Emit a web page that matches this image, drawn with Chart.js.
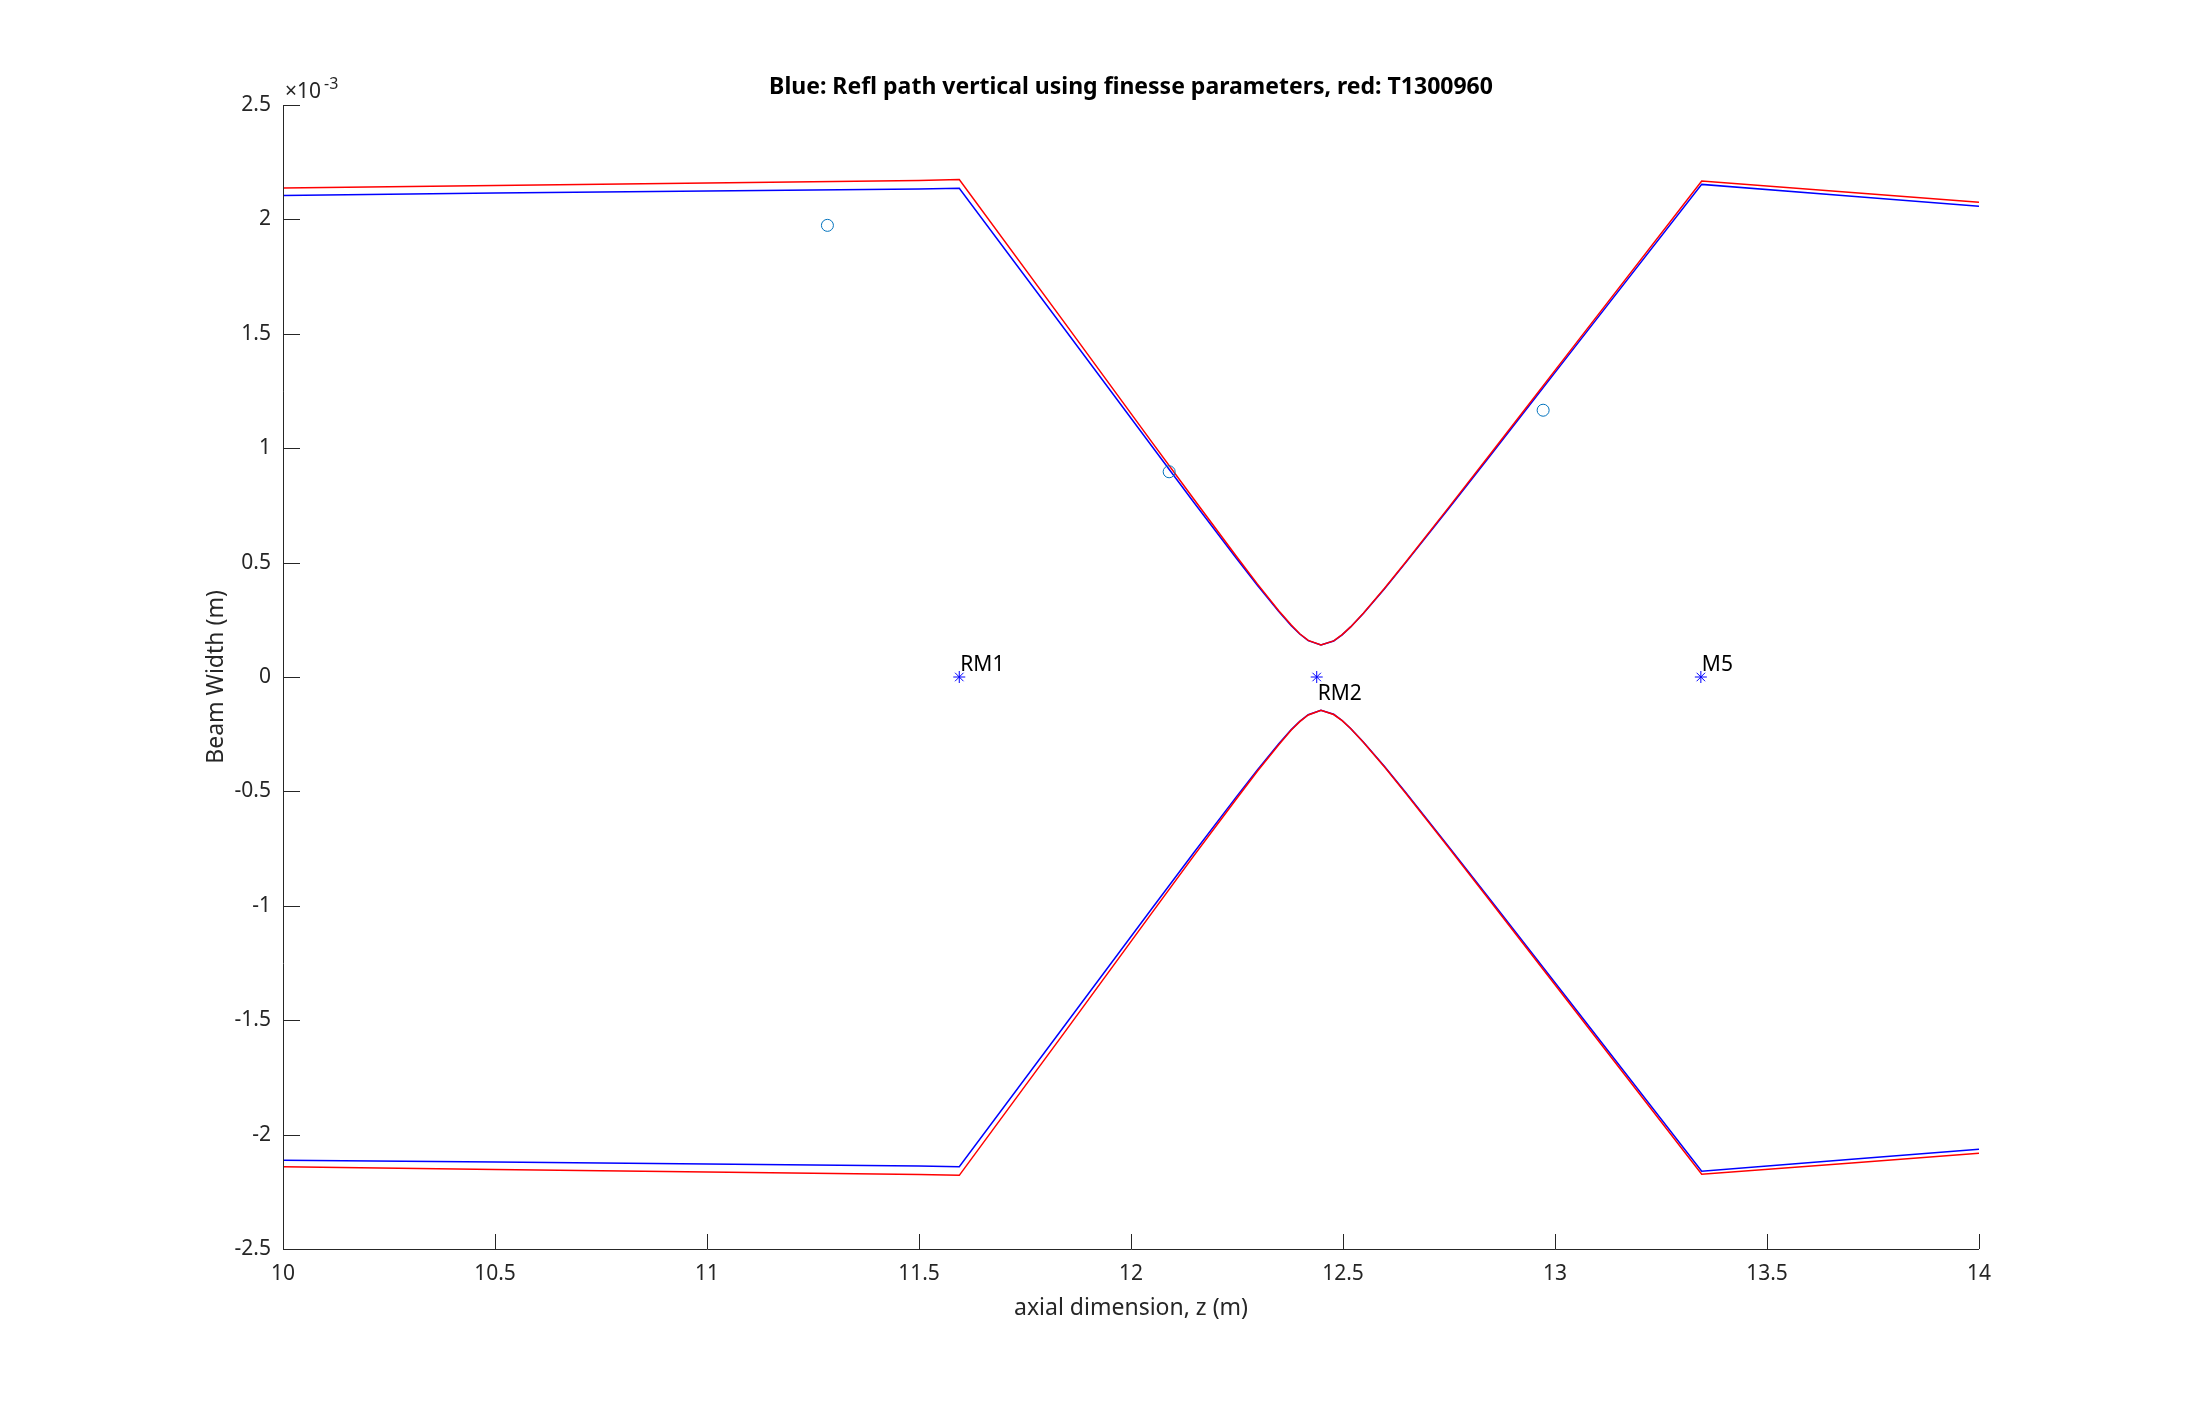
<!DOCTYPE html>
<html><head><meta charset="utf-8">
<script src="https://cdn.jsdelivr.net/npm/chart.js@4.4.1/dist/chart.umd.min.js"></script>
<style>html,body{margin:0;padding:0;background:#fff;}#wrap{width:2187px;height:1406px;}</style>
</head><body><div id="wrap"><canvas id="c" width="2187" height="1406"></canvas></div>
<script>
// values of beam width in units of 1e-3 m (axis multiplier x10^-3)
const zPath = [10, 10.5, 11, 11.5, 11.595, 11.848, 12.048, 12.148, 12.248, 12.298, 12.348, 12.378, 12.398, 12.418, 12.448, 12.478, 12.498, 12.518, 12.548, 12.598, 12.648, 12.748, 12.848, 13.048, 13.346, 13.7, 14];
const blueUpper = [2.105, 2.115, 2.124, 2.133, 2.136, 1.509, 1.012, 0.764, 0.520, 0.401, 0.287, 0.224, 0.188, 0.159, 0.140, 0.157, 0.184, 0.219, 0.278, 0.386, 0.500, 0.733, 0.969, 1.445, 2.153, 2.101, 2.057];
const blueLower = [-2.112, -2.120, -2.128, -2.137, -2.140, -1.512, -1.015, -0.768, -0.525, -0.406, -0.293, -0.230, -0.194, -0.165, -0.145, -0.163, -0.190, -0.225, -0.284, -0.391, -0.505, -0.738, -0.974, -1.450, -2.160, -2.108, -2.064];
const redUpper = [2.137, 2.148, 2.159, 2.170, 2.174, 1.537, 1.030, 0.778, 0.529, 0.407, 0.291, 0.227, 0.189, 0.160, 0.140, 0.158, 0.185, 0.219, 0.279, 0.388, 0.503, 0.738, 0.976, 1.455, 2.168, 2.118, 2.075];
const redLower = [-2.141, -2.152, -2.163, -2.174, -2.178, -1.541, -1.034, -0.782, -0.534, -0.412, -0.297, -0.232, -0.195, -0.166, -0.145, -0.164, -0.191, -0.225, -0.285, -0.393, -0.508, -0.743, -0.981, -1.460, -2.173, -2.124, -2.082];
const zMeasured = [11.284, 12.090, 12.972];
const wMeasured = [1.974, 0.897, 1.166];
const zOptics = [11.595, 12.438, 13.344];
const yOptics = [0, 0, 0];
const opticNames = ['RM1', 'RM2', 'M5'];
const xTicks = [10, 10.5, 11, 11.5, 12, 12.5, 13, 13.5, 14];
const yTicks = [-2.5, -2, -1.5, -1, -0.5, 0, 0.5, 1, 1.5, 2, 2.5];
const titleText = 'Blue: Refl path vertical using finesse parameters, red: T1300960';
const xLabel = 'axial dimension, z (m)';
const yLabel = 'Beam Width (m)';

const pts = (xs, ys) => xs.map((x, i) => ({x: x, y: ys[i]}));
const FONT = '"Noto Sans", "DejaVu Sans", sans-serif';
const AX = '#262626';

const lineDs = (data, color, order) => ({data: data, borderColor: color, borderWidth: 1.5, pointRadius: 0, tension: 0, fill: false, showLine: true, order: order});

const decor = {
  id: 'decor',
  afterDraw(chart) {
    const ctx = chart.ctx, a = chart.chartArea, xs = chart.scales.x, ys = chart.scales.y;
    ctx.save();
    ctx.strokeStyle = AX; ctx.lineWidth = 1;
    ctx.beginPath();
    ctx.moveTo(a.left + 0.5, a.top); ctx.lineTo(a.left + 0.5, a.bottom + 0.5); ctx.lineTo(a.right, a.bottom + 0.5);
    xTicks.forEach(v => { const p = Math.round(xs.getPixelForValue(v)) + 0.5; ctx.moveTo(p, a.bottom); ctx.lineTo(p, a.bottom - 15); });
    yTicks.forEach(v => { const p = Math.round(ys.getPixelForValue(v)) + 0.5; ctx.moveTo(a.left, p); ctx.lineTo(a.left + 17, p); });
    ctx.stroke();
    // title
    ctx.fillStyle = '#000'; ctx.font = 'bold 23px ' + FONT; ctx.textAlign = 'center'; ctx.textBaseline = 'alphabetic';
    ctx.fillText(titleText, (a.left + a.right) / 2, 94);
    // exponent
    ctx.fillStyle = AX; ctx.textAlign = 'left';
    ctx.font = '21px ' + FONT; ctx.fillText('\u00d710', 285, 98);
    ctx.font = '16px ' + FONT; ctx.fillText('-3', 324, 89);
    // axis labels
    ctx.font = '23px ' + FONT; ctx.textAlign = 'center'; ctx.textBaseline = 'middle';
    ctx.fillText(xLabel, (a.left + a.right) / 2, 1308);
    ctx.save(); ctx.translate(216, (a.top + a.bottom) / 2); ctx.rotate(-Math.PI / 2); ctx.fillText(yLabel, 0, 0); ctx.restore();
    // optic labels
    ctx.fillStyle = '#000'; ctx.textAlign = 'left'; ctx.textBaseline = 'alphabetic'; ctx.font = '21px ' + FONT;
    opticNames.forEach((n, i) => {
      const px = xs.getPixelForValue(zOptics[i]) + 1;
      const py = ys.getPixelForValue(yOptics[i]);
      ctx.fillText(n, px, i === 1 ? py + 23 : py - 6);
    });
    ctx.restore();
  }
};

new Chart(document.getElementById('c'), {
  type: 'scatter',
  data: {
    datasets: [
      {data: pts(zMeasured, wMeasured), pointStyle: 'circle', pointRadius: 6, borderColor: '#0072BD', backgroundColor: 'rgba(0,0,0,0)', borderWidth: 1, showLine: false, order: 1},
      {data: pts(zOptics, yOptics), pointStyle: 'star', pointRadius: 6, borderColor: '#0000FF', backgroundColor: '#0000FF', borderWidth: 1, showLine: false, order: 2},
      lineDs(pts(zPath, redUpper), '#FF0000', 3),
      lineDs(pts(zPath, redLower), '#FF0000', 3),
      lineDs(pts(zPath, blueUpper), '#0000FF', 4),
      lineDs(pts(zPath, blueLower), '#0000FF', 4)
    ]
  },
  options: {
    responsive: false, devicePixelRatio: 1, animation: false,
    layout: {padding: {top: 105, right: 208, bottom: 0, left: 0}},
    plugins: {legend: {display: false}, tooltip: {enabled: false}, title: {display: false}},
    scales: {
      x: {type: 'linear', min: 10, max: 14, afterFit: s => { s.height = 157; },
          afterBuildTicks: s => { s.ticks = xTicks.map(v => ({value: v})); },
          grid: {display: false, drawTicks: false}, border: {display: false},
          ticks: {padding: 12, color: AX, font: {family: FONT, size: 21}, maxRotation: 0, autoSkip: false, callback: v => String(v)}},
      y: {type: 'linear', min: -2.5, max: 2.5, afterFit: s => { s.width = 283; },
          afterBuildTicks: s => { s.ticks = yTicks.map(v => ({value: v})); },
          grid: {display: false, drawTicks: false}, border: {display: false},
          ticks: {padding: 12, color: AX, font: {family: FONT, size: 21}, autoSkip: false, callback: v => String(v)}}
    }
  },
  plugins: [decor]
});
</script></body></html>
